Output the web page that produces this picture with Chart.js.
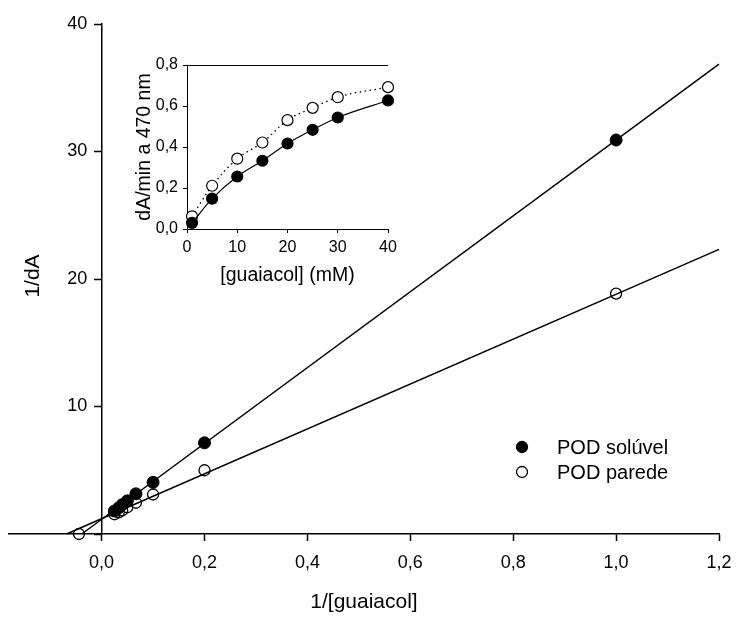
<!DOCTYPE html>
<html><head><meta charset="utf-8">
<script src="https://cdn.jsdelivr.net/npm/chart.js@4.4.1/dist/chart.umd.min.js"></script>
<style>
html,body{margin:0;padding:0;background:#fff;}
#wrap{position:relative;width:736px;height:617px;overflow:hidden;}
#main{position:absolute;left:0;top:0;}
#inset{position:absolute;left:100px;top:40px;}
</style></head><body>
<div id="wrap">
<canvas id="main" width="736" height="617"></canvas>
<canvas id="inset" width="320" height="255"></canvas>
</div>
<script>
// ---- data ----
const seriesLabels = ['POD solúvel', 'POD parede'];
const concentrations = [1, 5, 10, 15, 20, 25, 30, 40];            // [guaiacol] mM
const invConc = [1.0, 0.2, 0.1, 0.0667, 0.05, 0.04, 0.0333, 0.025]; // 1/[guaiacol]
const invRateSoluvel = [30.9, 7.15, 4.05, 3.15, 2.6, 2.3, 2.05, 1.8];
const invRateParede  = [18.85, 5.0, 3.1, 2.45, 2.1, 1.85, 1.7, 1.55];
const paredeAxisPoint = [-0.044, 0];
const fitSlope = [29.75, 17.6];
const fitIntercept = [1.15, 1.2];
const rateSoluvel = [0.030, 0.148, 0.256, 0.333, 0.417, 0.484, 0.544, 0.627];
const rateParede  = [0.062, 0.211, 0.343, 0.422, 0.531, 0.591, 0.643, 0.692];
const mainXTicks = [0, 0.2, 0.4, 0.6, 0.8, 1.0, 1.2];
const mainYTicks = [0, 10, 20, 30, 40];
const insetXTicks = [0, 10, 20, 30, 40];
const insetYTicks = [0, 0.2, 0.4, 0.6, 0.8];
const mainXRange = [-0.18, 1.2];
const mainYRange = [0, 40];

// ---- helpers ----
const FONT = 'Liberation Sans, Arial, Helvetica, sans-serif';
const pts = (xs, ys) => xs.map((x, i) => ({x: x, y: ys[i]}));
const fitLine = k => {
  const x0 = -fitIntercept[k] / fitSlope[k];
  const x1 = mainXRange[1];
  return [{x: x0, y: 0}, {x: x1, y: fitIntercept[k] + fitSlope[k] * x1}];
};
const comma1 = v => Number(v).toFixed(1).replace('.', ',');

const mainDecor = {
  id: 'mainDecor',
  afterDraw(chart) {
    const ctx = chart.ctx;
    ctx.save();
    ctx.fillStyle = '#000';
    ctx.font = '21px ' + FONT;
    ctx.textAlign = 'center';
    ctx.textBaseline = 'middle';
    ctx.translate(33, 276);
    ctx.rotate(-Math.PI / 2);
    ctx.fillText('1/dA', 0, 0);
    ctx.restore();
    // legend
    ctx.save();
    const ds = chart.data.datasets;
    [0, 1].forEach((k, i) => {
      const y = 447 + i * 25;
      ctx.beginPath();
      ctx.arc(522, y, 5.5, 0, Math.PI * 2);
      ctx.lineWidth = 1.3;
      ctx.strokeStyle = '#000';
      if (k === 0) { ctx.fillStyle = '#000'; ctx.fill(); }
      ctx.stroke();
      ctx.fillStyle = '#000';
      ctx.font = '20px ' + FONT;
      ctx.textAlign = 'left';
      ctx.textBaseline = 'middle';
      ctx.fillText(ds[k].label, 557, y + 1);
    });
    ctx.restore();
  }
};

const tickGrid = {display: true, drawOnChartArea: false, drawTicks: true, tickLength: 7, tickColor: '#000', tickWidth: 1.5};

new Chart(document.getElementById('main'), {
  type: 'scatter',
  data: {
    datasets: [
      {label: seriesLabels[0], data: pts(invConc, invRateSoluvel), showLine: false,
       pointRadius: 6, pointBackgroundColor: '#000', pointBorderColor: '#000', pointBorderWidth: 1, clip: false},
      {label: seriesLabels[1], data: pts(invConc, invRateParede).concat([{x: paredeAxisPoint[0], y: paredeAxisPoint[1]}]), showLine: false,
       pointRadius: 5.5, pointBackgroundColor: 'rgba(0,0,0,0)', pointBorderColor: '#000', pointBorderWidth: 1.3, clip: false},
      {label: 'fit1', data: fitLine(0), showLine: true, pointRadius: 0, borderColor: '#000', borderWidth: 1.5, clip: false},
      {label: 'fit2', data: fitLine(1), showLine: true, pointRadius: 0, borderColor: '#000', borderWidth: 1.5, clip: false}
    ]
  },
  options: {
    responsive: false, animation: false, devicePixelRatio: 1,
    layout: {padding: {left: 9, right: 17, top: 24, bottom: 0}},
    plugins: {legend: {display: false}, tooltip: {enabled: false}},
    scales: {
      x: {
        type: 'linear', min: mainXRange[0], max: mainXRange[1], position: 'bottom',
        afterFit: s => { s.height = 83; s.paddingLeft = 0; s.paddingRight = 0; },
        afterBuildTicks: s => { s.ticks = mainXTicks.map(v => ({value: v})); },
        grid: tickGrid,
        border: {display: true, color: '#000', width: 1.5},
        ticks: {color: '#000', font: {family: FONT, size: 18}, padding: 11, maxRotation: 0, autoSkip: false, callback: v => comma1(v)},
        title: {display: true, text: '1/[guaiacol]', color: '#000', font: {family: FONT, size: 21}, padding: {top: 0, bottom: 2}}
      },
      y: {
        type: 'linear', min: mainYRange[0], max: mainYRange[1], position: {x: 0},
        afterBuildTicks: s => { s.ticks = mainYTicks.map(v => ({value: v})); },
        grid: tickGrid,
        border: {display: true, color: '#000', width: 1.5},
        ticks: {display: false}
      },
      yLabels: {
        type: 'linear', min: mainYRange[0], max: mainYRange[1], position: {x: -0.028},
        afterBuildTicks: s => { s.ticks = mainYTicks.map(v => ({value: v})); },
        grid: {display: false, drawTicks: false},
        border: {display: false},
        ticks: {color: '#000', font: {family: FONT, size: 18}, padding: 0, callback: v => (v === 0 ? '' : String(v))}
      }
    }
  },
  plugins: [mainDecor]
});

const insetDecor = {
  id: 'insetDecor',
  afterDraw(chart) {
    const {ctx, chartArea} = chart;
    ctx.save();
    ctx.strokeStyle = '#000';
    ctx.lineWidth = 1;
    ctx.beginPath();
    ctx.moveTo(chartArea.left, chartArea.top + 0.5);
    ctx.lineTo(chartArea.right, chartArea.top + 0.5);
    ctx.stroke();
    ctx.restore();
  }
};

new Chart(document.getElementById('inset'), {
  type: 'scatter',
  data: {
    datasets: [
      {label: seriesLabels[0], data: pts(concentrations, rateSoluvel), showLine: true, cubicInterpolationMode: 'monotone',
       borderColor: '#000', borderWidth: 1.2, pointRadius: 5.5, pointBackgroundColor: '#000', pointBorderColor: '#000', clip: false},
      {label: seriesLabels[1], data: pts(concentrations, rateParede), showLine: true, cubicInterpolationMode: 'monotone',
       borderColor: '#000', borderWidth: 1.3, borderDash: [1.5, 3.5],
       pointRadius: 5.5, pointBackgroundColor: '#fff', pointBorderColor: '#000', pointBorderWidth: 1.2, clip: false}
    ]
  },
  options: {
    responsive: false, animation: false, devicePixelRatio: 1,
    layout: {padding: {left: 33, right: 32, top: 25, bottom: 0}},
    plugins: {legend: {display: false}, tooltip: {enabled: false}},
    scales: {
      x: {
        type: 'linear', min: 0, max: 40, position: 'bottom',
        afterFit: s => { s.height = 66; s.paddingLeft = 0; s.paddingRight = 0; },
        afterBuildTicks: s => { s.ticks = insetXTicks.map(v => ({value: v})); },
        grid: {display: true, drawOnChartArea: false, drawTicks: true, tickLength: 4, tickColor: '#000', tickWidth: 1},
        border: {display: true, color: '#000', width: 1},
        ticks: {color: '#000', font: {family: FONT, size: 16}, padding: 5, maxRotation: 0, autoSkip: false, callback: v => String(v)},
        title: {display: true, text: '[guaiacol] (mM)', color: '#000', font: {family: FONT, size: 19.5}, padding: {top: 0, bottom: 8}}
      },
      y: {
        type: 'linear', min: 0, max: 0.8, position: 'left',
        afterFit: s => { s.width = 54; },
        afterBuildTicks: s => { s.ticks = insetYTicks.map(v => ({value: v})); },
        grid: {display: true, drawOnChartArea: false, drawTicks: true, tickLength: 4, tickColor: '#000', tickWidth: 1},
        border: {display: true, color: '#000', width: 1},
        ticks: {color: '#000', font: {family: FONT, size: 16}, padding: 5, callback: v => comma1(v)},
        title: {display: true, text: 'dA/min a 470 nm', color: '#000', font: {family: FONT, size: 19.5}, padding: {top: 0, bottom: 0}}
      }
    }
  },
  plugins: [insetDecor]
});
</script>
</body></html>
